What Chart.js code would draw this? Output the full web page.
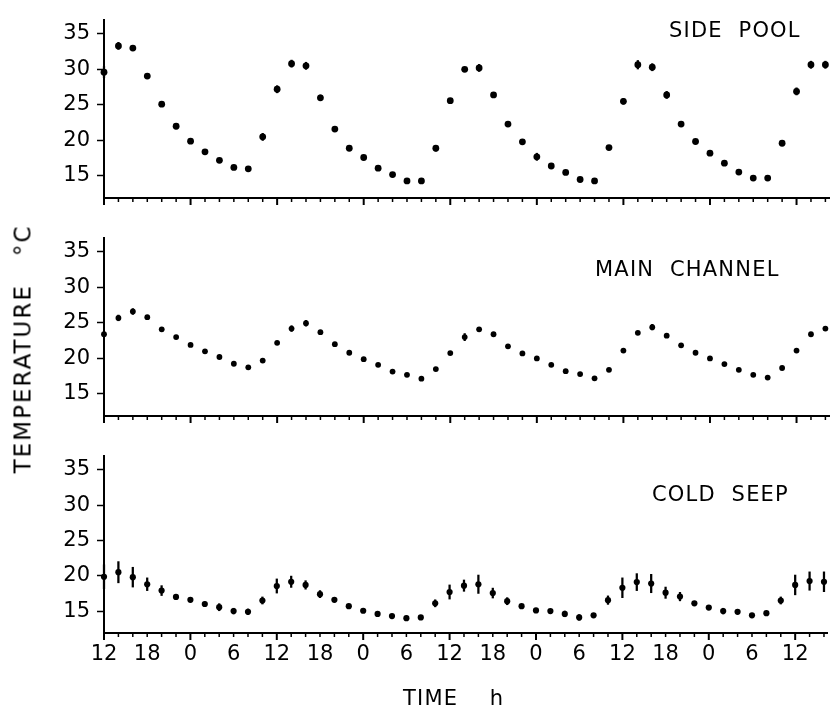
<!DOCTYPE html>
<html>
<head>
<meta charset="utf-8">
<script src="https://cdn.jsdelivr.net/npm/chart.js@4.4.1/dist/chart.umd.min.js"></script>
<style>
  html, body { margin: 0; padding: 0; background: #fff; }
  #wrap { position: relative; width: 833px; height: 709px; overflow: hidden; font-family: "DejaVu Sans", sans-serif; color: #000; }
  canvas { position: absolute; left: 0; }
  .lbl { position: absolute; font-size: 21px; line-height: 1; letter-spacing: 1.2px; white-space: pre; }
</style>
</head>
<body>
<div id="wrap">
  <canvas id="side" width="833" height="218" style="top:0"></canvas>
  <canvas id="main" width="833" height="218" style="top:218px"></canvas>
  <canvas id="cold" width="833" height="273" style="top:436px"></canvas>
  <div class="lbl" style="left:669px;top:20px">SIDE  POOL</div>
  <div class="lbl" style="left:595px;top:259px">MAIN  CHANNEL</div>
  <div class="lbl" style="left:652px;top:484px">COLD  SEEP</div>
  <div class="lbl" style="left:403px;top:688px">TIME    h</div>
  <div class="lbl" style="left:23px;top:349px;font-size:23px;letter-spacing:2px;transform:translate(-50%,-50%) rotate(-90deg)">TEMPERATURE   °C</div>
</div>
<script>
// hours since the start (12 h on day one), one reading every 2 h
const hours = [0, 2, 4, 6, 8, 10, 12, 14, 16, 18, 20, 22, 24, 26, 28, 30, 32, 34, 36, 38, 40,
  42, 44, 46, 48, 50, 52, 54, 56, 58, 60, 62, 64, 66, 68, 70, 72, 74, 76, 78, 80,
  82, 84, 86, 88, 90, 92, 94, 96, 98, 100];

const sidePool = [29.6, 33.3, 33.0, 29.05, 25.1, 22.0, 19.9, 18.4, 17.2, 16.2, 16.0,
  20.5, 27.2, 30.8, 30.5, 26.0, 21.6, 18.9, 17.6, 16.1, 15.2,
  14.3, 14.3, 18.9, 25.6, 30.0, 30.2, 26.4, 22.3, 19.8, 17.7,
  16.4, 15.5, 14.5, 14.3, 19.0, 25.5, 30.65, 30.3, 26.4, 22.3,
  19.85, 18.2, 16.8, 15.55, 14.7, 14.7, 19.6, 26.9, 30.65, 30.65];
const sidePoolErr = [0.8, 0.5, 0, 0, 0, 0.4, 0, 0, 0, 0, 0,
  0.5, 0.5, 0.5, 0.5, 0.4, 0.3, 0, 0, 0, 0,
  0, 0, 0.4, 0, 0, 0.5, 0, 0, 0, 0.5,
  0, 0, 0, 0, 0, 0.4, 0.6, 0.5, 0.5, 0,
  0, 0, 0, 0, 0, 0, 0, 0.5, 0.5, 0.5];

const mainChannel = [23.4, 25.7, 26.6, 25.8, 24.1, 23.0, 21.9, 21.0, 20.2, 19.25, 18.75,
  19.7, 22.2, 24.2, 24.95, 23.7, 22.0, 20.8, 19.9, 19.1, 18.15,
  17.7, 17.15, 18.5, 20.75, 23.0, 24.1, 23.4, 21.7, 20.7, 20.0,
  19.1, 18.2, 17.8, 17.2, 18.4, 21.1, 23.6, 24.4, 23.2, 21.85,
  20.8, 20.0, 19.2, 18.4, 17.7, 17.3, 18.65, 21.1, 23.4, 24.2];
const mainChannelErr = [0, 0.4, 0.4, 0, 0, 0, 0, 0, 0, 0, 0,
  0, 0, 0.4, 0.4, 0, 0, 0, 0, 0, 0,
  0, 0, 0, 0, 0.5, 0, 0, 0, 0, 0,
  0, 0, 0, 0, 0, 0, 0, 0.4, 0, 0,
  0, 0, 0, 0, 0, 0, 0, 0, 0, 0];

const coldSeep = [19.85, 20.5, 19.8, 18.8, 17.9, 17.0, 16.6, 16.0, 15.55, 15.0, 14.9,
  16.5, 18.55, 19.15, 18.7, 17.4, 16.6, 15.7, 15.05, 14.6, 14.3,
  14.0, 14.1, 16.1, 17.7, 18.6, 18.8, 17.55, 16.4, 15.7, 15.1,
  15.0, 14.6, 14.1, 14.4, 16.55, 18.3, 19.1, 18.9, 17.6, 17.05,
  16.1, 15.5, 15.0, 14.9, 14.4, 14.7, 16.5, 18.7, 19.25, 19.15];
const coldSeepErr = [1.7, 1.5, 1.4, 0.9, 0.7, 0, 0, 0.3, 0.5, 0.4, 0.4,
  0.5, 1.0, 0.8, 0.6, 0.5, 0, 0, 0, 0, 0,
  0.3, 0, 0.5, 1.0, 0.8, 1.3, 0.7, 0.5, 0, 0,
  0, 0.4, 0.4, 0, 0.6, 1.4, 1.2, 1.3, 0.8, 0.6,
  0, 0, 0.4, 0, 0, 0, 0.5, 1.4, 1.3, 1.4];

const yTicks = [15, 20, 25, 30, 35];

// clock hour shown under every 6th hour of the run
function clockLabel(v) {
  return v % 6 === 0 ? String((12 + v) % 24) : '';
}

// small ticks every 2 h, longer ones every 12 h
const xTickMarks = {
  id: 'xTickMarks',
  afterDraw(chart) {
    const sx = chart.scales.x;
    const ctx = chart.ctx;
    const y0 = chart.chartArea.bottom;
    ctx.save();
    ctx.strokeStyle = '#000';
    sx.ticks.forEach((t) => {
      const px = sx.getPixelForValue(t.value);
      const major = t.value % 12 === 0;
      ctx.lineWidth = major ? 2 : 1.5;
      ctx.beginPath();
      ctx.moveTo(px, y0);
      ctx.lineTo(px, y0 + (major ? 7 : 4));
      ctx.stroke();
    });
    ctx.restore();
  }
};

function makePanel(id, values, errors, radius, padTop, axisHeight, showLabels) {
  const points = hours.map((h, i) => ({ x: h, y: values[i] }));
  const bars = [];
  hours.forEach((h, i) => {
    if (errors[i] > 0) bars.push({ x: h, y: [values[i] - errors[i], values[i] + errors[i]] });
  });

  return new Chart(document.getElementById(id), {
    type: 'scatter',
    data: {
      datasets: [
        { type: 'bar', data: bars, backgroundColor: '#000', barThickness: 1.6, borderWidth: 0, clip: false, order: 2 },
        { type: 'scatter', data: points, backgroundColor: '#000', borderWidth: 0, pointRadius: radius, clip: false, order: 1 }
      ]
    },
    options: {
      responsive: false,
      animation: false,
      layout: { padding: { top: padTop, right: 0, bottom: 0, left: 0 } },
      plugins: { legend: { display: false }, tooltip: { enabled: false } },
      scales: {
        x: {
          type: 'linear',
          min: 0,
          max: 100.5,
          offset: false,
          grid: { display: false, drawTicks: false },
          border: { display: true, color: '#000', width: 2 },
          ticks: {
            display: showLabels,
            stepSize: 2,
            maxTicksLimit: 100,
            includeBounds: false,
            autoSkip: false,
            maxRotation: 0,
            padding: 9,
            color: '#000',
            font: { family: 'DejaVu Sans', size: 21 },
            callback: clockLabel
          },
          afterFit: (s) => { s.height = axisHeight; }
        },
        y: {
          min: 11.9,
          max: 37,
          grid: { drawOnChartArea: false, tickLength: 7, tickWidth: 1.5, tickColor: '#000' },
          border: { color: '#000', width: 2 },
          afterBuildTicks: (s) => { s.ticks = yTicks.map((v) => ({ value: v })); },
          ticks: { padding: 7, color: '#000', font: { family: 'DejaVu Sans', size: 21 } },
          afterFit: (s) => { s.width = 104; }
        }
      }
    },
    plugins: [xTickMarks]
  });
}

makePanel('side', sidePool, sidePoolErr, 3.4, 15, 20, false);
makePanel('main', mainChannel, mainChannelErr, 2.9, 17, 20, false);
makePanel('cold', coldSeep, coldSeepErr, 3.1, 16, 76, true);
</script>
</body>
</html>
